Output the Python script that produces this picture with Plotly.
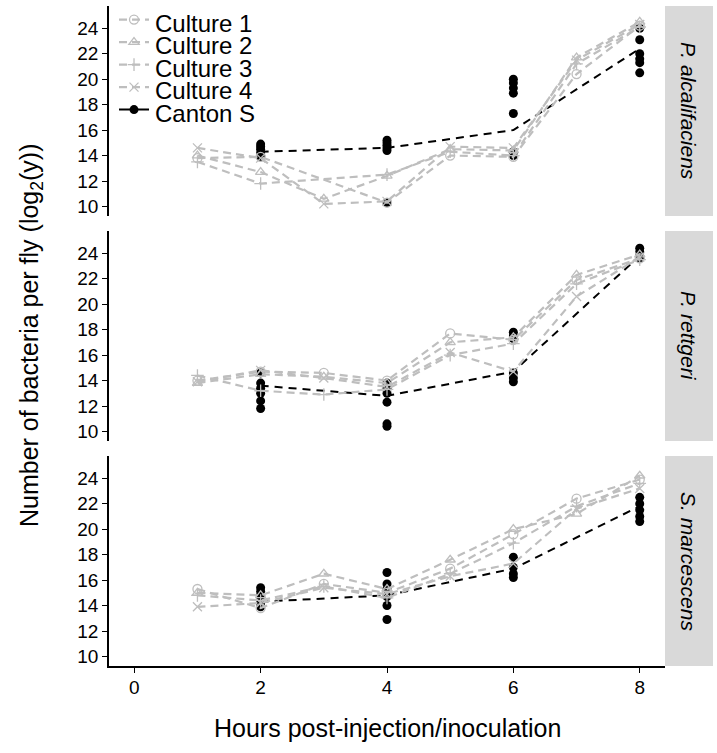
import plotly.graph_objects as go

# ---------------- data ----------------
panels = ["P. alcalifaciens", "P. rettgeri", "S. marcescens"]
hours = [1, 2, 3, 4, 5, 6, 7, 8]
culture_names = ["Culture 1", "Culture 2", "Culture 3", "Culture 4"]
canton_name = "Canton S"

# culture values per panel (None = not measured)
alc_c1 = [13.8, 13.9, None, 10.3, 14.0, 13.9, 20.4, 24.2]
alc_c2 = [14.0, 12.7, 10.6, 12.4, 14.5, 14.4, 21.7, 24.5]
alc_c3 = [13.5, 11.8, None, 12.5, 14.3, 14.0, 21.2, 24.1]
alc_c4 = [14.6, 13.8, 10.2, 10.4, 14.7, 14.6, 21.5, 24.3]

ret_c1 = [14.0, 14.7, 14.6, 14.0, 17.7, 17.2, 21.9, 23.6]
ret_c2 = [13.8, 14.5, 14.3, 13.8, 17.0, 17.4, 22.3, 23.9]
ret_c3 = [14.4, 13.2, 12.9, 13.3, 16.0, 16.9, 21.6, 23.5]
ret_c4 = [13.9, 14.8, 14.2, 13.5, 16.2, 14.7, 20.6, 23.7]

mar_c1 = [15.3, 13.8, 15.7, 15.0, 16.9, 19.6, 22.4, 23.9]
mar_c2 = [15.0, 14.8, 16.5, 15.3, 17.6, 20.0, 21.2, 24.2]
mar_c3 = [14.8, 14.4, 15.5, 14.6, 16.5, 18.9, 21.8, 23.6]
mar_c4 = [13.9, 14.2, 15.4, 14.9, 16.3, 17.3, 21.6, 23.2]

# Canton S replicate points
canton_hours = [2, 4, 6, 8]
alc_canton = [
    [14.9, 14.7, 14.5, 14.2, 14.0, 13.9],
    [15.2, 15.0, 14.8, 14.6, 14.4, 10.3],
    [20.0, 19.7, 19.3, 18.9, 17.3, 14.3, 14.0],
    [24.0, 23.1, 22.0, 21.6, 21.3, 20.5],
]
ret_canton = [
    [14.6, 13.8, 13.4, 13.0, 12.4, 11.8],
    [13.8, 13.4, 13.0, 12.3, 10.6, 10.4],
    [17.8, 17.5, 17.3, 14.6, 14.2, 13.9],
    [24.4, 24.1, 23.8, 23.6],
]
mar_canton = [
    [15.4, 15.1, 14.8, 14.5, 14.2, 13.9],
    [16.6, 15.7, 15.3, 14.7, 14.0, 12.9],
    [17.8, 17.0, 16.5, 16.2],
    [22.5, 22.0, 21.5, 21.0, 20.6],
]
# Canton S summary line
alc_canton_line = [14.3, 14.6, 16.0, 22.4]
ret_canton_line = [13.6, 12.8, 14.7, 23.8]
mar_canton_line = [14.3, 14.8, 16.9, 21.8]

x_ticks = [0, 2, 4, 6, 8]
y_ticks = [10, 12, 14, 16, 18, 20, 22, 24]

# ---------------- styling ----------------
GREY = "#BEBEBE"
FONT = "Liberation Sans, Arial, sans-serif"
symbols = ["circle-open", "triangle-up-open", "cross-thin-open", "x-thin-open"]

W, H = 717, 753
ML, MR, MT, MB = 109, 52, 6, 87
PW, PH = W - ML - MR, H - MT - MB

cultures = [
    [alc_c1, alc_c2, alc_c3, alc_c4],
    [ret_c1, ret_c2, ret_c3, ret_c4],
    [mar_c1, mar_c2, mar_c3, mar_c4],
]
cantons = [alc_canton, ret_canton, mar_canton]
canton_lines = [alc_canton_line, ret_canton_line, mar_canton_line]

fig = go.Figure()

for p in range(3):
    xa = "x" if p == 0 else f"x{p+1}"
    ya = "y" if p == 0 else f"y{p+1}"
    cx, cy = [], []
    for h, vals in zip(canton_hours, cantons[p]):
        cx += [h] * len(vals)
        cy += vals
    fig.add_trace(go.Scatter(
        x=cx, y=cy, mode="markers", xaxis=xa, yaxis=ya,
        marker=dict(symbol="circle", size=9, color="black"),
        showlegend=False, legendgroup="canton", hoverinfo="skip"))
    fig.add_trace(go.Scatter(
        x=canton_hours, y=canton_lines[p], mode="lines", xaxis=xa, yaxis=ya,
        line=dict(color="black", width=2, dash="8px,6px"),
        showlegend=False, legendgroup="canton", hoverinfo="skip"))
    for c in range(4):
        fig.add_trace(go.Scatter(
            x=hours, y=cultures[p][c], mode="lines+markers",
            xaxis=xa, yaxis=ya, connectgaps=True,
            line=dict(color=GREY, width=2.2, dash="8px,5px"),
            marker=dict(symbol=symbols[c], size=9, color=GREY,
                        line=dict(color=GREY, width=1.3)),
            name=" ", legendgroup=culture_names[c],
            legendrank=c + 1, showlegend=(p == 0)))

# legend entry for Canton S
fig.add_trace(go.Scatter(
    x=[None], y=[None], mode="lines+markers", xaxis="x", yaxis="y",
    line=dict(color="black", width=2),
    marker=dict(symbol="circle", size=9, color="black"),
    name=" ", legendgroup="canton", legendrank=5, showlegend=True))

domains = [[450 / PH, 1.0], [225 / PH, 435 / PH], [0.0, 210 / PH]]
yaxis_common = dict(range=[9.25, 25.75], tickvals=y_ticks, ticks="outside",
                    ticklen=5, tickwidth=1.3, tickcolor="black",
                    showline=True, linecolor="black", linewidth=1.5,
                    showgrid=False, zeroline=False,
                    tickfont=dict(family=FONT, size=19, color="black"))
xaxis_common = dict(range=[-0.4, 8.4], tickvals=x_ticks, showgrid=False,
                    zeroline=False)

layout = dict(
    width=W, height=H,
    margin=dict(l=ML, r=MR, t=MT, b=MB, autoexpand=False),
    paper_bgcolor="white", plot_bgcolor="white",
    font=dict(family=FONT, color="black"),
    legend=dict(x=0.009, y=1.004, xanchor="left", yanchor="top",
                font=dict(family=FONT, size=15, color="black"),
                bgcolor="rgba(0,0,0,0)", itemwidth=30,
                tracegroupgap=0, traceorder="normal"),
)
for p in range(3):
    sfx = "" if p == 0 else str(p + 1)
    layout["yaxis" + sfx] = dict(yaxis_common, domain=domains[p],
                                 anchor="x" + sfx)
    xa = dict(xaxis_common, anchor="y" + sfx, domain=[0, 1])
    if p < 2:
        xa.update(showticklabels=False, ticks="", showline=False)
    else:
        xa.update(ticks="outside", ticklen=5, tickwidth=1.3, tickcolor="black",
                  showline=True, linecolor="black", linewidth=1.5,
                  ticklabelstandoff=-2,
                  tickfont=dict(family=FONT, size=19, color="black"))
    layout["xaxis" + sfx] = xa
fig.update_layout(**layout)

# legend labels (large text next to the legend symbols)
legend_labels = culture_names + [canton_name]
for i, lab in enumerate(legend_labels):
    py = 23 + 22.5 * i
    fig.add_annotation(xref="paper", yref="paper", x=(153 - ML) / PW,
                       y=1 - (py - MT) / PH, text=lab, showarrow=False,
                       xanchor="left", yanchor="middle",
                       font=dict(family=FONT, size=24, color="black"))

# facet strips
for p in range(3):
    d0, d1 = domains[p]
    fig.add_shape(type="rect", xref="paper", yref="paper",
                  x0=1.0, x1=1.0 + 48 / PW, y0=d0, y1=d1,
                  fillcolor="#D9D9D9", line=dict(width=0), layer="below")
    fig.add_annotation(xref="paper", yref="paper",
                       x=1.0 + 24 / PW, y=(d0 + d1) / 2,
                       xanchor="center", yanchor="middle",
                       text="<i>" + panels[p] + "</i>", showarrow=False,
                       textangle=90,
                       font=dict(family=FONT, size=21, color="black"))

# axis titles
fig.add_annotation(xref="paper", yref="paper", x=(31 - ML) / PW, y=0.5,
                   text="Number of bacteria per fly (log<sub>2</sub>(y))",
                   showarrow=False, textangle=-90, xanchor="center",
                   yanchor="middle",
                   font=dict(family=FONT, size=25, color="black"))
fig.add_annotation(xref="paper", yref="paper", x=0.5, y=-62 / PH,
                   text="Hours post-injection/inoculation", showarrow=False,
                   xanchor="center", yanchor="middle",
                   font=dict(family=FONT, size=25, color="black"))

fig.write_html("out.html",
               config={"displayModeBar": False},
               post_script="document.body.style.margin='0px';"
                           "document.body.style.overflow='hidden';")
